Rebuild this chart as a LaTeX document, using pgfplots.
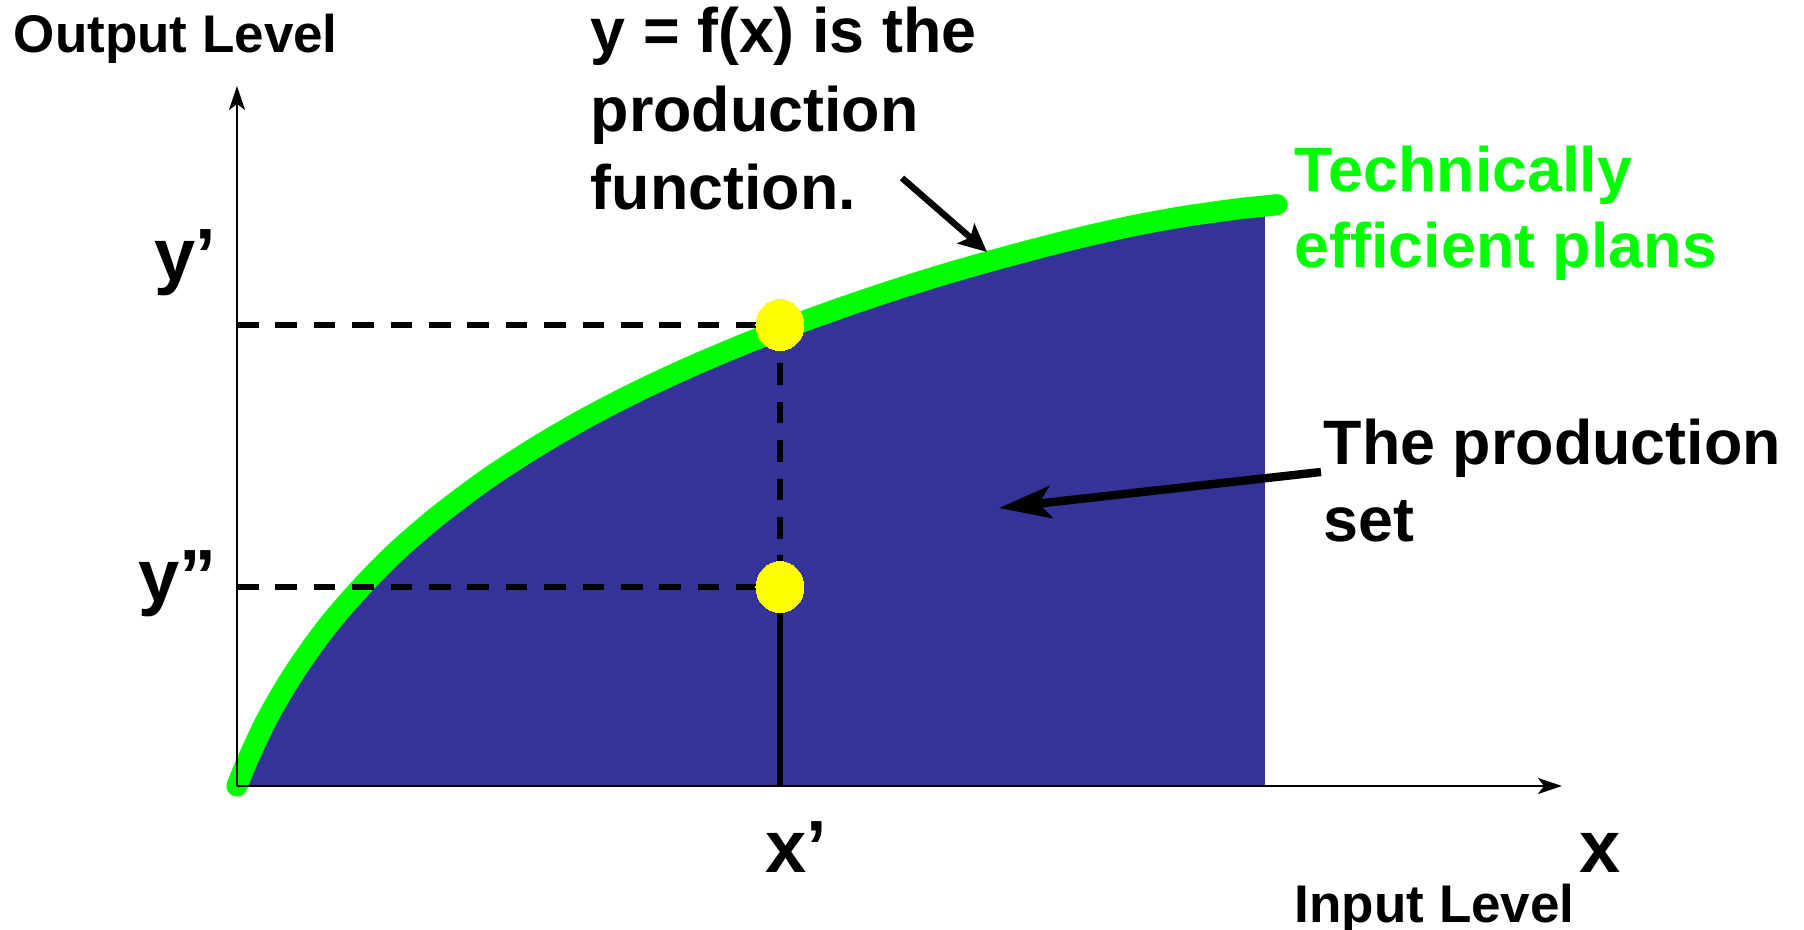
\documentclass[border=0pt]{standalone}
\usepackage{pgfplots}
\pgfplotsset{compat=1.18}
\usepackage{pgfplotstable}
\usetikzlibrary{arrows.meta}
\usepackage{fontspec}
\setmainfont{Liberation Sans}
\definecolor{setblue}{HTML}{333399}
\definecolor{effgreen}{HTML}{00FF00}
\definecolor{dotyellow}{HTML}{FFFF00}
\newcommand\mainf{\bfseries\fontsize{15.7}{19}\selectfont}
\newcommand\smallf{\bfseries\fontsize{13.25}{16}\selectfont}
\newcommand\bigf{\bfseries\fontsize{18.5}{22}\selectfont}

\pgfplotstableread{
X Y
0 0
5 12.5
10 24.5
20 46.5
30 67
45 93.5
60 117.5
80 146
100 171.5
130 205
160 235
200 269.5
250 307
300 339.5
350 368.5
400 394.3
450 417.7
500 439
543 456
600 476.7
650 493.7
700 509.5
750 524
800 537.5
850 550
900 561
950 570
1000 577
1028 580
}\fillcurve

\pgfplotstableread{
X Y
0 0
5 12.5
10 24.5
20 46.5
30 67
45 93.5
60 117.5
80 146
100 171.5
130 205
160 235
200 269.5
250 307
300 339.5
350 368.5
400 394.3
450 417.7
500 439
543 456
600 476.7
650 493.7
700 509.5
750 524
800 537.5
850 550
900 561
950 570
1000 577
1028 580
1040 581.3
}\prodfunc

\begin{document}
\begin{tikzpicture}
\begin{axis}[
  width=331.25pt, height=175pt, scale only axis,
  xmin=0, xmax=1325, ymin=0, ymax=700,
  axis lines=left,
  axis line style={line width=0.6pt, -{Stealth[length=6pt,width=4pt,inset=1.5pt]}},
  xtick=\empty, ytick=\empty,
  clip=false,
  axis on top,
]
% production set
\addplot[draw=none, fill=setblue, smooth] table[x=X,y=Y]{\fillcurve} \closedcycle;
% production function
\addplot[effgreen, line width=5.3pt, line cap=round, smooth] table[x=X,y=Y]{\prodfunc};
% guide lines
\draw[line width=1.45pt, dash pattern=on 5.4pt off 4.2pt] (axis cs:0,461) -- (axis cs:543,461);
\draw[line width=1.45pt, dash pattern=on 5.4pt off 4.2pt] (axis cs:0,199) -- (axis cs:543,199);
\draw[line width=1.45pt, dash pattern=on 5.4pt off 4.2pt] (axis cs:543,461) -- (axis cs:543,199);
\draw[line width=1.4pt] (axis cs:543,199) -- (axis cs:543,0);
% points
\addplot[dotyellow, only marks, mark=*, mark size=6pt, mark options={fill=dotyellow, draw=dotyellow, line width=0pt, yscale=1.06}] coordinates {(543,461) (543,199)};
% arrows
\draw[line width=1.6pt, -{Stealth[length=7pt,width=6.5pt,inset=1.5pt]}] (axis cs:665,608) -- (axis cs:750,534);
\draw[line width=2.1pt, -{Stealth[length=13pt,width=8pt,inset=3pt]}] (axis cs:1084,314) -- (axis cs:762,278);
% texts
\node[anchor=base west, inner sep=0pt, font=\smallf] at (axis cs:-224,733) {Output Level};
\node[anchor=base west, inner sep=0pt, font=\smallf] at (axis cs:1057,-137) {Input Level};
\node[anchor=base west, inner sep=0pt, font=\mainf] at (axis cs:353,733) {y = f(x) is the};
\node[anchor=base west, inner sep=0pt, font=\mainf] at (axis cs:353,654) {production};
\node[anchor=base west, inner sep=0pt, font=\mainf] at (axis cs:353,576) {function.};
\node[anchor=base west, inner sep=0pt, font=\mainf, text=effgreen] at (axis cs:1057,594) {Technically};
\node[anchor=base west, inner sep=0pt, font=\mainf, text=effgreen] at (axis cs:1057,518) {efficient plans};
\node[anchor=base west, inner sep=0pt, font=\mainf] at (axis cs:1086,321) {The production};
\node[anchor=base west, inner sep=0pt, font=\mainf] at (axis cs:1086,244) {set};
\node[anchor=base east, inner sep=0pt, font=\bigf] at (axis cs:-20,505) {y’};
\node[anchor=base east, inner sep=0pt, font=\bigf] at (axis cs:-20,184) {y”};
\node[anchor=base west, inner sep=0pt, font=\bigf] at (axis cs:528,-87) {x’};
\node[anchor=base west, inner sep=0pt, font=\bigf] at (axis cs:1342,-87) {x};
\coordinate (bbSW) at (axis cs:-237,-144);
\coordinate (bbNE) at (axis cs:1567,786);
\end{axis}
\pgfresetboundingbox
\path[use as bounding box] (bbSW) rectangle (bbNE);
\end{tikzpicture}
\end{document}
